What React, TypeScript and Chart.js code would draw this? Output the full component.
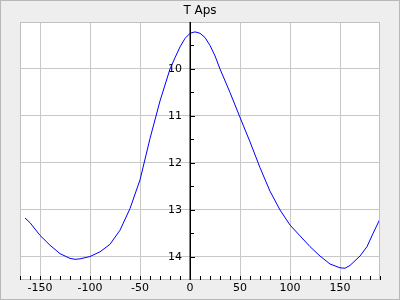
import React, { useEffect, useRef } from "react";
import { Chart, registerables } from "chart.js";

Chart.register(...registerables);

const TITLE = "T Aps";
const phase: number[] = [-165, -160, -150, -140, -130, -120, -115, -110, -100, -90, -80, -70, -60, -50, -40, -30, -20, -15, -10, -5, 0, 5, 10, 15, 20, 25, 30, 40, 50, 60, 70, 80, 90, 100, 110, 120, 130, 140, 150, 155, 160, 170, 177, 183, 190];
const mag: number[] = [13.17, 13.27, 13.54, 13.75, 13.93, 14.03, 14.05, 14.04, 13.99, 13.89, 13.73, 13.43, 12.97, 12.36, 11.48, 10.68, 10.0, 9.76, 9.53, 9.35, 9.24, 9.21, 9.24, 9.33, 9.5, 9.72, 10.0, 10.5, 11.03, 11.55, 12.1, 12.6, 13.0, 13.32, 13.55, 13.78, 13.98, 14.15, 14.23, 14.24, 14.18, 13.98, 13.78, 13.5, 13.19];
const yLabels: number[] = [10, 11, 12, 13, 14];
const xLabels: number[] = [-150, -100, -50, 0, 50, 100, 150];

const FONT = "'DejaVu Sans', sans-serif";

const framePlugin = {
  id: "frame",
  beforeDraw(chart: any) {
    const { ctx, chartArea: a, width, height } = chart;
    ctx.save();
    ctx.fillStyle = "#eeeeee";
    ctx.fillRect(0, 0, width, height);
    ctx.strokeStyle = "#b8b8b8";
    ctx.lineWidth = 1;
    ctx.strokeRect(0.5, 0.5, width - 1, height - 1);
    ctx.fillStyle = "#ffffff";
    ctx.fillRect(a.left, a.top, a.right - a.left, a.bottom - a.top);
    ctx.restore();
  },
  afterDraw(chart: any) {
    const { ctx, chartArea: a } = chart;
    const xs = chart.scales.x;
    const ys = chart.scales.y;
    ctx.save();
    ctx.strokeStyle = "#c0c0c0";
    ctx.lineWidth = 1;
    ctx.strokeRect(Math.round(a.left) + 0.5, Math.round(a.top) + 0.5, Math.round(a.right - a.left) - 1, Math.round(a.bottom - a.top) - 1);
    ctx.strokeStyle = "#000000";
    ctx.beginPath();
    xs.ticks.forEach((t: any) => {
      const px = Math.round(xs.getPixelForValue(t.value)) + 0.5;
      ctx.moveTo(px, a.bottom);
      ctx.lineTo(px, a.bottom - 4);
    });
    ctx.stroke();
    const x0 = Math.round(xs.getPixelForValue(0));
    ctx.lineWidth = 1.5;
    ctx.beginPath();
    ctx.moveTo(x0 + 0.25, a.top);
    ctx.lineTo(x0 + 0.25, a.bottom);
    ctx.stroke();
    ctx.lineWidth = 1;
    ctx.beginPath();
    ys.ticks.forEach((t: any) => {
      if (t.value <= 9.01 || t.value > 14.4) return;
      const py = Math.round(ys.getPixelForValue(t.value)) + 0.5;
      const len = Number.isInteger(t.value) ? 5 : 4;
      ctx.moveTo(x0, py);
      ctx.lineTo(x0 + len, py);
    });
    ctx.stroke();
    ctx.restore();
  },
};

export default function App() {
  const ref = useRef<HTMLCanvasElement>(null);
  useEffect(() => {
    if (!ref.current) return;
    const chart = new Chart(ref.current, {
      type: "line",
      data: {
        datasets: [
          {
            data: phase.map((p, i) => ({ x: p, y: mag[i] })),
            borderColor: "#0000ff",
            borderWidth: 1,
            pointRadius: 0,
            tension: 0,
            fill: false,
          },
        ],
      },
      options: {
        responsive: false,
        animation: false,
        layout: { padding: { left: 20, right: 20, top: 0, bottom: 0 } },
        plugins: {
          legend: { display: false },
          tooltip: { enabled: false },
          title: {
            display: true,
            text: TITLE,
            color: "#000000",
            font: { family: FONT, size: 12, weight: "normal" },
            padding: { top: 4, bottom: 3.6 },
          },
        },
        scales: {
          x: {
            type: "linear",
            min: -170,
            max: 190,
            position: "bottom",
            afterFit: (s: any) => {
              s.height = 20;
            },
            border: { display: false },
            grid: {
              drawTicks: false,
              color: (c: any) => (c.tick && xLabels.includes(c.tick.value) ? "#c8c8c8" : "rgba(0,0,0,0)"),
            },
            ticks: {
              stepSize: 10,
              padding: 2,
              color: "#000000",
              font: { family: FONT, size: 11 },
              maxRotation: 0,
              autoSkip: false,
              callback: (v: any) => (xLabels.includes(Number(v)) ? String(v) : ""),
            },
          },
          y: {
            type: "linear",
            reverse: true,
            min: 9.0,
            max: 14.49,
            position: { x: -8 } as any,
            border: { display: false },
            grid: {
              drawTicks: false,
              color: (c: any) => (c.tick && yLabels.includes(c.tick.value) ? "#c8c8c8" : "rgba(0,0,0,0)"),
            },
            ticks: {
              stepSize: 0.5,
              padding: 0,
              color: "#000000",
              font: { family: FONT, size: 11 },
              autoSkip: false,
              callback: (v: any) => (yLabels.includes(Number(v)) ? String(v) : ""),
            },
          },
        },
      },
      plugins: [framePlugin],
    });
    return () => chart.destroy();
  }, []);
  return (
    <div style={{ position: "fixed", left: 0, top: 0, width: 400, height: 300 }}>
      <canvas ref={ref} width={400} height={300} style={{ display: "block" }} />
    </div>
  );
}
